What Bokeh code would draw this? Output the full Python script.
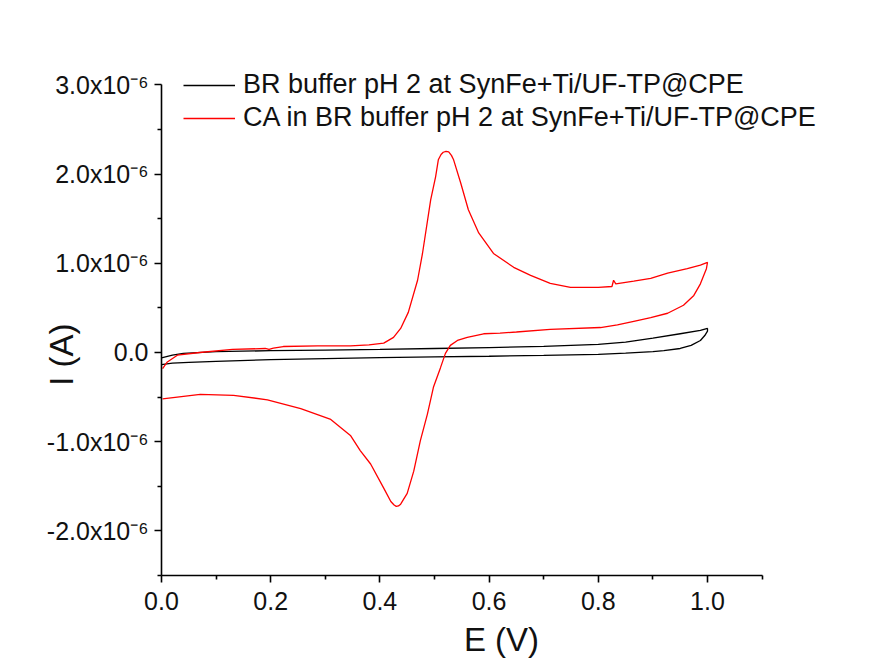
import numpy as np
from bokeh.plotting import figure
from bokeh.models import (Range1d, FixedTicker, PrintfTickFormatter, CustomJSTickFormatter,
                          Legend, LegendItem)
from bokeh.embed import file_html
from bokeh.resources import INLINE

# ---- data (E in V, I in units of 1e-6 A) ----
blank_fwd_E = [0.0, 0.02, 0.04, 0.1, 0.2, 0.3, 0.4, 0.5, 0.6, 0.7, 0.8, 0.85, 0.9, 0.95, 0.987, 1.0]
blank_fwd_I = [-0.06, -0.03, -0.01, 0.01, 0.02, 0.027, 0.034, 0.045, 0.055, 0.068, 0.09, 0.116, 0.16, 0.21, 0.247, 0.27]
blank_rev_E = [1.0, 0.995, 0.987, 0.97, 0.95, 0.92, 0.9, 0.85, 0.8, 0.7, 0.6, 0.5, 0.4, 0.3, 0.2, 0.1, 0.05, 0.02, 0.0]
blank_rev_I = [0.24, 0.19, 0.135, 0.08, 0.045, 0.02, 0.01, -0.008, -0.02, -0.032, -0.042, -0.05, -0.058, -0.068, -0.08, -0.10, -0.11, -0.12, -0.135]

ca_fwd_E = [0.002, 0.01, 0.029, 0.07, 0.13, 0.19, 0.197, 0.205, 0.223, 0.286, 0.346, 0.38, 0.407, 0.425,
            0.438, 0.452, 0.469, 0.478, 0.493, 0.502, 0.507, 0.512, 0.516, 0.521, 0.526, 0.531, 0.535,
            0.548, 0.562, 0.581, 0.608, 0.645, 0.676, 0.712, 0.749, 0.8, 0.825, 0.828, 0.832, 0.865,
            0.896, 0.927, 0.963, 0.987, 1.0]
ca_fwd_I = [-0.18, -0.11, -0.03, 0.0, 0.034, 0.045, 0.035, 0.05, 0.067, 0.075, 0.075, 0.085, 0.105, 0.17,
            0.27, 0.45, 0.81, 1.11, 1.71, 1.97, 2.16, 2.22, 2.245, 2.255, 2.25, 2.21, 2.16,
            1.90, 1.60, 1.34, 1.11, 0.955, 0.865, 0.775, 0.73, 0.73, 0.74, 0.81, 0.77, 0.80,
            0.83, 0.89, 0.94, 0.98, 1.01]
ca_rev_E = [0.998, 0.987, 0.975, 0.956, 0.927, 0.896, 0.865, 0.835, 0.804, 0.712, 0.65, 0.62, 0.59,
            0.56, 0.542, 0.529, 0.52, 0.511, 0.498, 0.487, 0.474, 0.462, 0.45, 0.438, 0.434, 0.43,
            0.426, 0.42, 0.407, 0.383, 0.364, 0.346, 0.31, 0.255, 0.194, 0.132, 0.071, 0.002]
ca_rev_I = [0.94, 0.77, 0.64, 0.53, 0.44, 0.39, 0.35, 0.31, 0.28, 0.26, 0.23, 0.217, 0.21,
            0.17, 0.135, 0.08, -0.01, -0.17, -0.39, -0.69, -0.99, -1.33, -1.58, -1.70, -1.72, -1.725,
            -1.71, -1.67, -1.52, -1.25, -1.10, -0.93, -0.75, -0.63, -0.53, -0.48, -0.47, -0.52]

x_major = [0.0, 0.2, 0.4, 0.6, 0.8, 1.0]
x_minor = [0.1, 0.3, 0.5, 0.7, 0.9, 1.1]
y_major = [-2.0e-6, -1.0e-6, 0.0, 1.0e-6, 2.0e-6, 3.0e-6]
y_minor = [-2.5e-6, -1.5e-6, -0.5e-6, 0.5e-6, 1.5e-6, 2.5e-6]

series_labels = ["BR buffer pH 2 at SynFe+Ti/UF-TP@CPE", "CA in BR buffer pH 2 at SynFe+Ti/UF-TP@CPE"]
series_colors = ["#000000", "#ff0000"]

FONT = "Liberation Sans"

p = figure(frame_width=680, frame_height=515, min_border_left=161, min_border_right=16,
           min_border_top=60, min_border_bottom=85, output_backend="svg", toolbar_location=None,
           x_range=Range1d(0, 680 / 546.0), y_range=Range1d(-2.5e-6, 3.2735e-6))
p.outline_line_color = None
p.xgrid.visible = False
p.ygrid.visible = False
p.background_fill_color = "white"

scale = 1e-6
bx = list(blank_fwd_E) + list(blank_rev_E)
by = list(np.array(blank_fwd_I) * scale) + list(np.array(blank_rev_I) * scale)
cx = list(ca_fwd_E) + list(ca_rev_E)
cy = list(np.array(ca_fwd_I) * scale) + list(np.array(ca_rev_I) * scale)

r1 = p.line(bx, by, line_color=series_colors[0], line_width=1.3)
r2 = p.line(cx, cy, line_color=series_colors[1], line_width=1.3)

for ax in (p.xaxis[0], p.yaxis[0]):
    ax.axis_line_width = 1.6
    ax.major_tick_line_width = 1.6
    ax.minor_tick_line_width = 1.6
    ax.major_tick_in = 0
    ax.major_tick_out = 7
    ax.minor_tick_in = 0
    ax.minor_tick_out = 4
    ax.major_label_text_font = FONT
    ax.major_label_text_font_size = "25px"
    ax.major_label_text_color = "#111111"
    ax.axis_label_text_font = FONT
    ax.axis_label_text_font_style = "normal"
    ax.axis_label_text_font_size = "33px"
    ax.axis_label_text_color = "#111111"

p.xaxis.bounds = (0.0, 1.1)
p.xaxis.ticker = FixedTicker(ticks=x_major, minor_ticks=x_minor)
p.xaxis.formatter = PrintfTickFormatter(format="%.1f")
p.xaxis.axis_label = "E (V)"
p.xaxis.major_label_standoff = 9
p.xaxis.axis_label_standoff = 8

p.yaxis.bounds = (-2.5e-6, 3.0e-6)
p.yaxis.ticker = FixedTicker(ticks=y_major, minor_ticks=y_minor)
p.yaxis.formatter = CustomJSTickFormatter(code="""
if (Math.abs(tick) < 1e-12) { return "0.0"; }
return (tick*1e6).toFixed(1) + "x10\u207B\u2076";
""")
p.yaxis.major_label_standoff = 6
p.yaxis.axis_label = "I (A)" + "\u00a0" * 8
p.yaxis.axis_label_standoff = -36

legend = Legend(items=[LegendItem(label=series_labels[0], renderers=[r1]),
                       LegendItem(label=series_labels[1], renderers=[r2])],
                location=(22, 442), border_line_color=None, background_fill_alpha=0,
                padding=0, margin=0, spacing=2, glyph_width=52, glyph_height=20,
                label_standoff=8, label_text_font=FONT, label_text_font_size="27px",
                label_text_color="#111111")
p.add_layout(legend)

open("out.html", "w").write(file_html(p, INLINE))
